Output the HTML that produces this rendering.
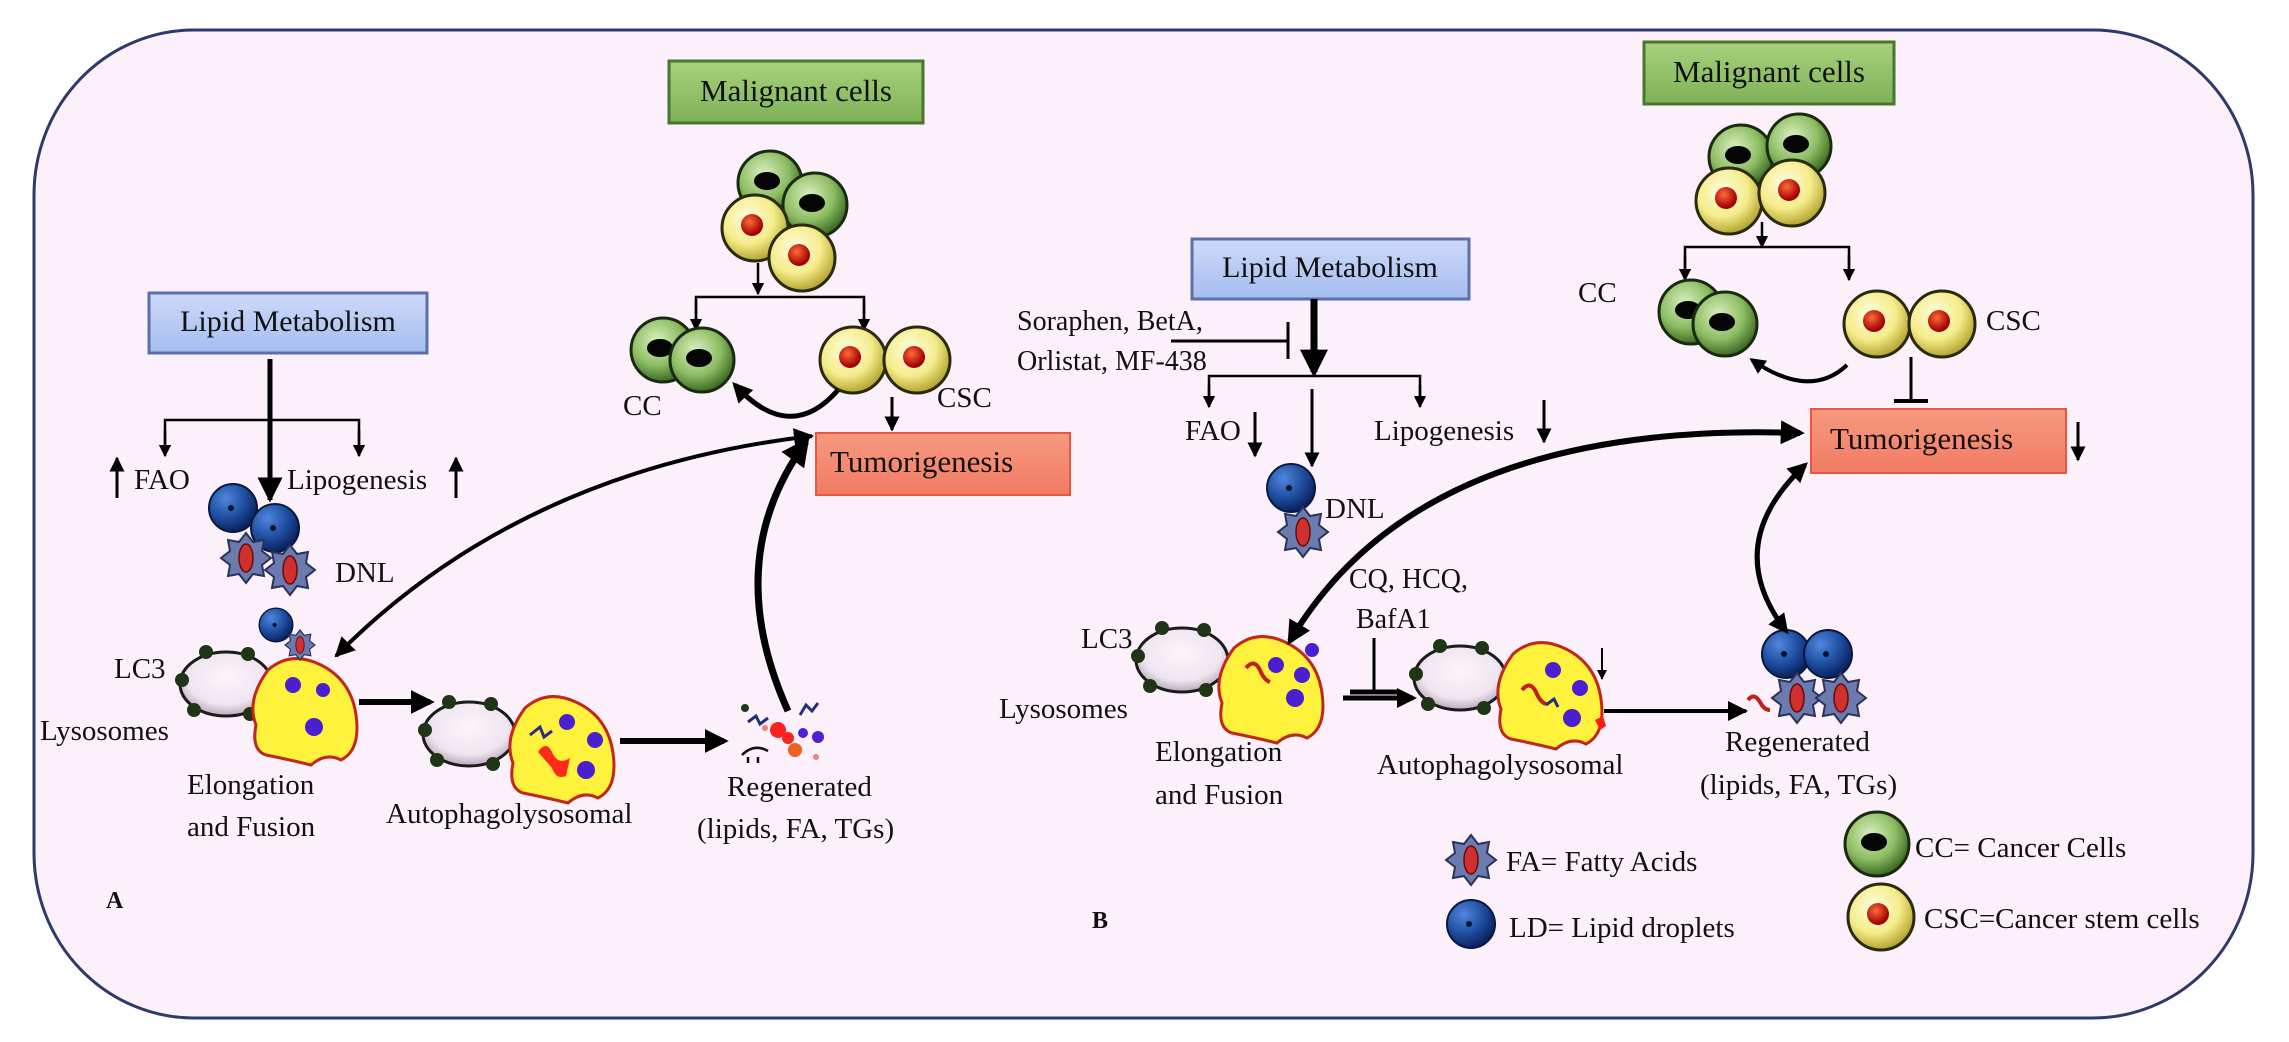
<!DOCTYPE html>
<html><head><meta charset="utf-8">
<style>
html,body{margin:0;padding:0;background:#fff;}
svg{display:block;}
text{font-family:"Liberation Serif",serif;fill:#111;}
</style></head>
<body>
<svg width="2289" height="1042" viewBox="0 0 2289 1042" xmlns="http://www.w3.org/2000/svg">
<defs>
 <radialGradient id="gG" cx="0.4" cy="0.35" r="0.65">
  <stop offset="0" stop-color="#d9efc0"/><stop offset="0.6" stop-color="#8dbd63"/><stop offset="1" stop-color="#3d6a24"/>
 </radialGradient>
 <radialGradient id="yG" cx="0.4" cy="0.35" r="0.65">
  <stop offset="0" stop-color="#fffde0"/><stop offset="0.6" stop-color="#f5ec8a"/><stop offset="1" stop-color="#b5a632"/>
 </radialGradient>
 <radialGradient id="rG" cx="0.4" cy="0.35" r="0.6">
  <stop offset="0" stop-color="#ff6a3a"/><stop offset="1" stop-color="#a00000"/>
 </radialGradient>
 <radialGradient id="bG" cx="0.35" cy="0.3" r="0.7">
  <stop offset="0" stop-color="#4f86dc"/><stop offset="0.6" stop-color="#1d4c9e"/><stop offset="1" stop-color="#0a2360"/>
 </radialGradient>
 <radialGradient id="eG" cx="0.5" cy="0.4" r="0.6">
  <stop offset="0" stop-color="#fbf6fb"/><stop offset="0.7" stop-color="#efe5ef"/><stop offset="1" stop-color="#b9a8bc"/>
 </radialGradient>
 <linearGradient id="blueBox" x1="0" y1="0" x2="0" y2="1">
  <stop offset="0" stop-color="#cddaf9"/><stop offset="1" stop-color="#a6bdf0"/>
 </linearGradient>
 <linearGradient id="greenBox" x1="0" y1="0" x2="0" y2="1">
  <stop offset="0" stop-color="#a6d27c"/><stop offset="1" stop-color="#7fb157"/>
 </linearGradient>
 <linearGradient id="redBox" x1="0" y1="0" x2="0" y2="1">
  <stop offset="0" stop-color="#f59a80"/><stop offset="1" stop-color="#f27b63"/>
 </linearGradient>
 <g id="gcell"><circle r="32" fill="url(#gG)" stroke="#1a2a10" stroke-width="3"/><ellipse cx="-3" cy="-2" rx="13" ry="9" fill="#050505"/></g>
 <g id="ycell"><circle r="33" fill="url(#yG)" stroke="#2a2a10" stroke-width="3"/><circle cx="-3" cy="-3" r="11" fill="url(#rG)"/></g>
 <g id="ld"><circle r="24" fill="url(#bG)" stroke="#08183f" stroke-width="2"/><circle cx="-2" cy="0" r="3" fill="#06142f"/></g>
 <g id="fa"><polygon points="0,-25 7,-16 18,-18 16,-7 25,0 16,7 18,18 7,16 0,25 -7,16 -18,18 -16,7 -25,0 -16,-7 -18,-18 -7,-16" fill="#6b7bb0" stroke="#2b3258" stroke-width="2"/><ellipse rx="7" ry="14" fill="#d0302e" stroke="#6a0a0a" stroke-width="1.5"/></g>
 <g id="auto"><ellipse rx="46" ry="32" fill="url(#eG)" stroke="#1b1b1b" stroke-width="3"/>
  <circle cx="-44" cy="-4" r="7" fill="#1e3516"/><circle cx="-20" cy="-32" r="7" fill="#1e3516"/><circle cx="22" cy="-30" r="7" fill="#1e3516"/><circle cx="-32" cy="26" r="7" fill="#1e3516"/><circle cx="24" cy="30" r="7" fill="#1e3516"/></g>
 <g id="blob"><path d="M-38,-40 Q-15,-60 15,-45 Q45,-30 50,5 Q55,40 35,50 Q20,42 5,55 Q-15,50 -40,45 Q-55,40 -50,15 Q-60,-10 -38,-40 Z" fill="#fff23c" stroke="#c0281e" stroke-width="3"/></g>
 <marker id="ah" viewBox="0 0 10 10" refX="9" refY="5" markerWidth="5" markerHeight="5" orient="auto-start-reverse"><path d="M0,0 L10,5 L0,10 Z" fill="#000"/></marker>
 <marker id="ahS" viewBox="0 0 10 10" refX="9" refY="5" markerWidth="7" markerHeight="7" orient="auto-start-reverse"><path d="M0,0 L10,5 L0,10 Z" fill="#000"/></marker>
 <marker id="ahB" viewBox="0 0 10 10" refX="8" refY="5" markerWidth="4" markerHeight="4" orient="auto-start-reverse"><path d="M0,0 L10,5 L0,10 Z" fill="#000"/></marker>
</defs>

<!-- frame -->
<rect x="34" y="30" width="2219" height="988" rx="160" ry="165" fill="#fcf0fb" stroke="#2e3a6c" stroke-width="3"/>

<!-- ================= PANEL A ================= -->
<rect x="669" y="61" width="254" height="62" fill="url(#greenBox)" stroke="#4a7530" stroke-width="3"/>
<text x="796" y="101" font-size="31" text-anchor="middle">Malignant cells</text>
<use href="#gcell" x="770" y="183"/><use href="#gcell" x="815" y="205"/>
<use href="#ycell" x="755" y="228"/><use href="#ycell" x="802" y="258"/>
<g stroke="#000" stroke-width="2.5" fill="none">
 <line x1="758" y1="263" x2="758" y2="294" marker-end="url(#ah)"/>
 <polyline points="696,328 696,297 864,297 864,328" />
</g>
<line x1="696" y1="300" x2="696" y2="330" stroke="#000" stroke-width="2.5" marker-end="url(#ah)"/>
<line x1="864" y1="300" x2="864" y2="330" stroke="#000" stroke-width="2.5" marker-end="url(#ah)"/>
<use href="#gcell" x="663" y="350"/><use href="#gcell" x="702" y="360"/>
<use href="#ycell" x="853" y="360"/><use href="#ycell" x="917" y="360"/>
<text x="623" y="415" font-size="29">CC</text>
<text x="937" y="407" font-size="29">CSC</text>
<path d="M838,390 Q790,445 735,385" stroke="#000" stroke-width="5" fill="none" marker-end="url(#ahB)"/>
<line x1="892" y1="397" x2="892" y2="430" stroke="#000" stroke-width="3" marker-end="url(#ah)"/>
<rect x="816" y="433" width="254" height="62" fill="url(#redBox)" stroke="#e8583e" stroke-width="2"/>
<text x="830" y="472" font-size="31">Tumorigenesis</text>

<rect x="149" y="293" width="278" height="60" fill="url(#blueBox)" stroke="#5b70a8" stroke-width="3"/>
<text x="288" y="331" font-size="30" text-anchor="middle">Lipid Metabolism</text>
<g stroke="#000" fill="none">
 <line x1="270" y1="359" x2="270" y2="420" stroke-width="5"/>
 <polyline points="165,455 165,420 359,420 359,455" stroke-width="2.5"/>
 <line x1="270" y1="420" x2="270" y2="500" stroke-width="5" marker-end="url(#ah)"/>
</g>
<line x1="165" y1="430" x2="165" y2="456" stroke="#000" stroke-width="2.5" marker-end="url(#ah)"/>
<line x1="359" y1="430" x2="359" y2="456" stroke="#000" stroke-width="2.5" marker-end="url(#ah)"/>
<line x1="117" y1="498" x2="117" y2="458" stroke="#000" stroke-width="3" marker-end="url(#ah)"/>
<text x="134" y="489" font-size="29">FAO</text>
<text x="287" y="489" font-size="29">Lipogenesis</text>
<line x1="456" y1="498" x2="456" y2="458" stroke="#000" stroke-width="3" marker-end="url(#ah)"/>
<use href="#ld" x="233" y="508"/><use href="#ld" x="275" y="528"/>
<use href="#fa" x="246" y="558"/><use href="#fa" x="290" y="570"/>
<text x="335" y="582" font-size="29">DNL</text>

<use href="#auto" x="226" y="684"/>
<use href="#blob" x="306" y="710"/>
<circle cx="293" cy="685" r="8" fill="#4a1fd0"/><circle cx="323" cy="690" r="7" fill="#4a1fd0"/><circle cx="314" cy="727" r="9" fill="#4a1fd0"/>
<g transform="translate(276,625) scale(0.7)"><use href="#ld"/></g>
<g transform="translate(300,645) scale(0.6)"><use href="#fa"/></g>
<text x="114" y="678" font-size="29">LC3</text>
<text x="40" y="740" font-size="29">Lysosomes</text>
<line x1="359" y1="702" x2="430" y2="702" stroke="#000" stroke-width="6" marker-end="url(#ahB)"/>
<use href="#auto" x="469" y="734"/>
<use href="#blob" x="563" y="748"/>
<circle cx="567" cy="722" r="8" fill="#4a1fd0"/><circle cx="595" cy="740" r="8" fill="#4a1fd0"/><circle cx="586" cy="770" r="9" fill="#4a1fd0"/>
<path d="M538,752 q8,-12 14,0 q6,14 18,6 l-4,18 q-10,4 -14,-8 z" fill="#ff2a1a"/>
<path d="M530,735 l10,-8 l4,10 l8,-6" stroke="#2a2a8a" stroke-width="3" fill="none"/>
<line x1="620" y1="741" x2="724" y2="741" stroke="#000" stroke-width="6" marker-end="url(#ahB)"/>
<g>
 <circle cx="745" cy="708" r="4" fill="#1e3516"/>
 <path d="M748,722 l8,-6 l4,8 l8,-6" stroke="#22307a" stroke-width="3" fill="none"/>
 <path d="M800,715 l6,-10 l6,6 l6,-8" stroke="#22307a" stroke-width="3" fill="none"/>
 <circle cx="778" cy="730" r="8" fill="#ff2020"/><circle cx="788" cy="738" r="6" fill="#ff2020"/>
 <circle cx="795" cy="750" r="7" fill="#f06020"/><circle cx="818" cy="737" r="6" fill="#5020d0"/>
 <circle cx="803" cy="733" r="5" fill="#5020d0"/><circle cx="816" cy="757" r="3" fill="#f08080"/><circle cx="765" cy="728" r="3" fill="#f08080"/>
 <path d="M742,755 q12,-12 26,-4 m-20,6 l0,6 m10,-6 l0,6" stroke="#111" stroke-width="2.5" fill="none"/>
</g>
<text x="187" y="794" font-size="29">Elongation</text>
<text x="187" y="836" font-size="29">and Fusion</text>
<text x="386" y="823" font-size="29">Autophagolysosomal</text>
<text x="727" y="796" font-size="29">Regenerated</text>
<text x="697" y="838" font-size="29">(lipids, FA, TGs)</text>
<text x="106" y="908" font-size="24" font-weight="bold">A</text>

<path d="M812,436 Q520,470 336,656" stroke="#000" stroke-width="4" fill="none" marker-end="url(#ah)" marker-start="url(#ah)"/>
<path d="M788,711 Q720,560 806,442" stroke="#000" stroke-width="7" fill="none" marker-end="url(#ahB)"/>

<!-- ================= PANEL B ================= -->
<rect x="1644" y="42" width="250" height="62" fill="url(#greenBox)" stroke="#4a7530" stroke-width="3"/>
<text x="1769" y="82" font-size="31" text-anchor="middle">Malignant cells</text>
<use href="#gcell" x="1741" y="157"/><use href="#gcell" x="1799" y="146"/>
<use href="#ycell" x="1729" y="201"/><use href="#ycell" x="1792" y="193"/>
<line x1="1762" y1="222" x2="1762" y2="247" stroke="#000" stroke-width="2.5" marker-end="url(#ah)"/>
<polyline points="1685,270 1685,247 1849,247 1849,270" stroke="#000" stroke-width="2.5" fill="none"/>
<line x1="1685" y1="255" x2="1685" y2="280" stroke="#000" stroke-width="2.5" marker-end="url(#ah)"/>
<line x1="1849" y1="255" x2="1849" y2="280" stroke="#000" stroke-width="2.5" marker-end="url(#ah)"/>
<text x="1578" y="302" font-size="29">CC</text>
<use href="#gcell" x="1691" y="312"/><use href="#gcell" x="1725" y="324"/>
<use href="#ycell" x="1877" y="324"/><use href="#ycell" x="1942" y="324"/>
<text x="1986" y="330" font-size="29">CSC</text>
<path d="M1847,365 Q1810,400 1752,360" stroke="#000" stroke-width="4" fill="none" marker-end="url(#ahB)"/>
<line x1="1911" y1="357" x2="1911" y2="401" stroke="#000" stroke-width="3"/>
<line x1="1894" y1="401" x2="1928" y2="401" stroke="#000" stroke-width="4"/>
<rect x="1811" y="409" width="255" height="64" fill="url(#redBox)" stroke="#e8583e" stroke-width="2"/>
<text x="1830" y="449" font-size="31">Tumorigenesis</text>
<line x1="2078" y1="422" x2="2078" y2="460" stroke="#000" stroke-width="3" marker-end="url(#ah)"/>

<rect x="1192" y="239" width="277" height="60" fill="url(#blueBox)" stroke="#5b70a8" stroke-width="3"/>
<text x="1330" y="277" font-size="30" text-anchor="middle">Lipid Metabolism</text>
<line x1="1314" y1="299" x2="1314" y2="372" stroke="#000" stroke-width="7" marker-end="url(#ahB)"/>
<text x="1017" y="330" font-size="28">Soraphen, BetA,</text>
<text x="1017" y="370" font-size="28">Orlistat, MF-438</text>
<line x1="1171" y1="341" x2="1288" y2="341" stroke="#000" stroke-width="3"/>
<line x1="1288" y1="322" x2="1288" y2="359" stroke="#000" stroke-width="3"/>
<polyline points="1209,400 1209,376 1420,376 1420,400" stroke="#000" stroke-width="2.5" fill="none"/>
<line x1="1209" y1="385" x2="1209" y2="407" stroke="#000" stroke-width="2.5" marker-end="url(#ah)"/>
<line x1="1420" y1="385" x2="1420" y2="407" stroke="#000" stroke-width="2.5" marker-end="url(#ah)"/>
<line x1="1312" y1="389" x2="1312" y2="466" stroke="#000" stroke-width="3" marker-end="url(#ah)"/>
<text x="1185" y="440" font-size="29">FAO</text>
<line x1="1255" y1="412" x2="1255" y2="456" stroke="#000" stroke-width="3" marker-end="url(#ah)"/>
<text x="1374" y="440" font-size="29">Lipogenesis</text>
<line x1="1544" y1="400" x2="1544" y2="442" stroke="#000" stroke-width="3" marker-end="url(#ah)"/>
<use href="#ld" x="1291" y="488"/><use href="#fa" x="1303" y="532"/>
<text x="1325" y="518" font-size="29">DNL</text>
<text x="1349" y="588" font-size="28">CQ, HCQ,</text>
<text x="1356" y="628" font-size="28">BafA1</text>
<line x1="1374" y1="638" x2="1374" y2="691" stroke="#000" stroke-width="3"/>
<line x1="1350" y1="692" x2="1398" y2="692" stroke="#000" stroke-width="5"/>
<line x1="1343" y1="698" x2="1413" y2="698" stroke="#000" stroke-width="5" marker-end="url(#ahB)"/>

<use href="#auto" x="1182" y="660"/>
<use href="#blob" x="1272" y="688"/>
<circle cx="1276" cy="665" r="8" fill="#4a1fd0"/><circle cx="1302" cy="675" r="8" fill="#4a1fd0"/><circle cx="1295" cy="698" r="9" fill="#4a1fd0"/><circle cx="1312" cy="650" r="7" fill="#4a1fd0"/>
<path d="M1246,668 q8,-10 14,2 q4,10 10,12" stroke="#c02018" stroke-width="4" fill="none"/>
<text x="1081" y="648" font-size="29">LC3</text>
<text x="999" y="718" font-size="29">Lysosomes</text>
<use href="#auto" x="1460" y="678"/>
<use href="#blob" x="1551" y="694"/>
<circle cx="1553" cy="670" r="8" fill="#4a1fd0"/><circle cx="1580" cy="688" r="8" fill="#4a1fd0"/><circle cx="1572" cy="718" r="9" fill="#4a1fd0"/>
<path d="M1522,690 q8,-10 14,2 q4,10 10,12" stroke="#c02018" stroke-width="4" fill="none"/>
<path d="M1546,705 l8,-6 l4,8" stroke="#22307a" stroke-width="3" fill="none"/>
<path d="M1595,720 l8,-4 l3,10 l-6,4 z" fill="#ff1a1a"/>
<line x1="1602" y1="648" x2="1602" y2="679" stroke="#000" stroke-width="2" marker-end="url(#ah)"/>
<line x1="1604" y1="711" x2="1746" y2="711" stroke="#000" stroke-width="4" marker-end="url(#ah)"/>
<path d="M1748,700 q6,-8 12,2 q4,8 10,8" stroke="#c02018" stroke-width="4" fill="none"/>
<use href="#ld" x="1786" y="654"/><use href="#ld" x="1828" y="654"/>
<use href="#fa" x="1797" y="698"/><use href="#fa" x="1841" y="698"/>
<text x="1155" y="761" font-size="29">Elongation</text>
<text x="1155" y="804" font-size="29">and Fusion</text>
<text x="1377" y="774" font-size="29">Autophagolysosomal</text>
<text x="1725" y="751" font-size="29">Regenerated</text>
<text x="1700" y="794" font-size="29">(lipids, FA, TGs)</text>
<text x="1092" y="928" font-size="24" font-weight="bold">B</text>

<path d="M1290,641 Q1420,420 1800,433" stroke="#000" stroke-width="6" fill="none" marker-end="url(#ahB)" marker-start="url(#ahB)"/>
<path d="M1786,631 Q1720,545 1805,465" stroke="#000" stroke-width="5" fill="none" marker-end="url(#ahB)" marker-start="url(#ahB)"/>

<!-- legend -->
<use href="#fa" x="1471" y="860"/>
<text x="1506" y="871" font-size="29">FA= Fatty Acids</text>
<use href="#ld" x="1471" y="924"/>
<text x="1509" y="937" font-size="29">LD= Lipid droplets</text>
<use href="#gcell" x="1877" y="844"/>
<text x="1915" y="857" font-size="29">CC= Cancer Cells</text>
<use href="#ycell" x="1881" y="917"/>
<text x="1924" y="928" font-size="29">CSC=Cancer stem cells</text>
</svg>
</body></html>
